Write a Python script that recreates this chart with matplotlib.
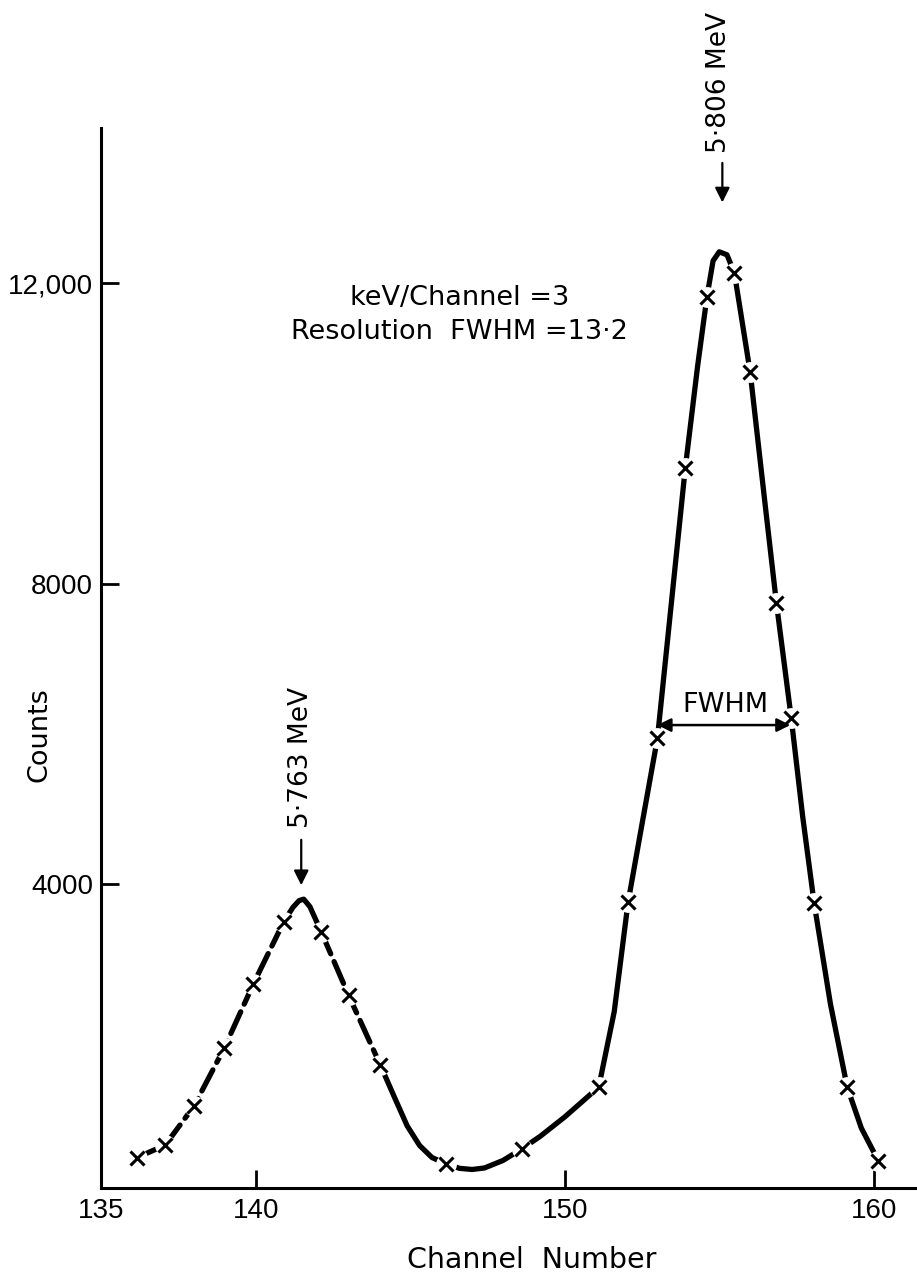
import matplotlib
matplotlib.use('Agg')
from matplotlib import pyplot as plt
from matplotlib import font_manager

plt.rcParams['font.family'] = ['DejaVu Sans']

# measured points (x markers)
channels = [136.15, 137.07, 138.0, 138.98, 139.92, 140.9, 142.12, 143.0, 144.03,
            146.16, 148.6, 151.1, 152.05, 153.0, 153.9, 154.6, 155.49, 156.0,
            156.85, 157.33, 158.07, 159.14, 160.15]
counts = [357, 526, 1045, 1818, 2670, 3495, 3362, 2523, 1591,
          273, 472, 1298, 3762, 5945, 9541, 11817, 12137, 10819,
          7743, 6211, 3748, 1298, 313]

# hand-drawn fitted curve
curve_ch = [136.15, 137.07, 138.0, 138.98, 139.92, 140.9, 141.2, 141.4, 141.55,
            141.75, 142.12, 143.0, 144.03, 144.5, 144.9, 145.3, 145.7, 146.16,
            146.6, 147.0, 147.4, 148.0, 148.6, 149.2, 150.0, 150.5, 151.1,
            151.6, 152.05, 152.5, 153.0, 153.9, 154.3, 154.6, 154.8,
            155.0, 155.25, 155.49, 156.0, 156.5, 156.85, 157.33, 157.7, 158.07,
            158.6, 159.14, 159.6, 160.15]
curve_counts = [357, 526, 1045, 1818, 2670, 3495, 3690, 3780, 3800,
                3700, 3362, 2523, 1591, 1150, 780, 520, 360, 273,
                215, 200, 220, 320, 472, 640, 900, 1080, 1298,
                2300, 3762, 4800, 5945, 9541, 10900, 11817, 12300,
                12420, 12380, 12137, 10819, 9000, 7743, 6211, 4900, 3748,
                2400, 1298, 750, 313]

xticks = [135, 140, 150, 160]
xtick_labels = ['135', '140', '150', '160']
yticks = [4000, 8000, 12000]
ytick_labels = ['4000', '8000', '12,000']

# narrower digits for the tick numbers if the font is there
try:
    font_manager.findfont('Liberation Sans', fallback_to_default=False)
    tick_font, tick_size = 'Liberation Sans', 20
except Exception:
    tick_font, tick_size = 'DejaVu Sans', 18

fig = plt.figure(figsize=(9.17, 12.87), dpi=100)
ax = fig.add_axes([0.1105, 0.0769, 0.8895, 0.8236])

line_kw = dict(color='black', lw=3.8, solid_capstyle='round', dash_capstyle='round', zorder=2)
# left peak drawn with long dashes, the rest solid
ax.plot(curve_ch[:6], curve_counts[:6], dashes=(4.5, 1.6), **line_kw)
ax.plot(curve_ch[5:11], curve_counts[5:11], **line_kw)
ax.plot(curve_ch[10:13], curve_counts[10:13], dashes=(4.5, 1.6), **line_kw)
ax.plot(curve_ch[12:], curve_counts[12:], **line_kw)
ax.plot(channels, counts, ls='none', marker='o', ms=15, mfc='white', mec='none', zorder=3)
ax.plot(channels, counts, ls='none', marker='x', ms=10, mew=2.2, color='black', zorder=4)

ax.set_xlim(135, 161.4)
ax.set_ylim(-47, 14068)
for s in ['top', 'right']:
    ax.spines[s].set_visible(False)
for s in ['left', 'bottom']:
    ax.spines[s].set_linewidth(2.2)

ax.set_xticks(xticks, xtick_labels)
ax.set_yticks(yticks, ytick_labels)
ax.tick_params(axis='both', direction='in', length=13, width=2, labelsize=tick_size)
ax.tick_params(axis='x', pad=7)
ax.tick_params(axis='y', pad=6)
for lab in ax.get_xticklabels() + ax.get_yticklabels():
    lab.set_family([tick_font, 'DejaVu Sans'])
ax.xaxis.get_major_ticks()[0].tick1line.set_visible(False)

fig.text(40 / 917, 1 - 735 / 1287, 'Counts', rotation=90, fontsize=19.5, ha='center', va='center')
fig.text(532 / 917, 1 - 1260 / 1287, 'Channel  Number', fontsize=20.5, ha='center', va='center')

ax.text(146.6, 11804, 'keV/Channel =3', fontsize=19.5, ha='center', va='center')
ax.text(146.6, 11352, 'Resolution  FWHM =13\u00b72', fontsize=19.5, ha='center', va='center')

# peak labels
ax.text(155.0, 14680, '5\u00b7806 MeV', rotation=90, fontsize=19, ha='center', va='center', clip_on=False)
ax.annotate('', xy=(155.1, 13040), xytext=(155.1, 13640), annotation_clip=False,
            arrowprops=dict(arrowstyle='-|>', color='black', lw=1.6, mutation_scale=22))
ax.text(141.45, 5692, '5\u00b7763 MeV', rotation=90, fontsize=19, ha='center', va='center')
ax.annotate('', xy=(141.47, 3948), xytext=(141.47, 4627),
            arrowprops=dict(arrowstyle='-|>', color='black', lw=1.6, mutation_scale=22))

# FWHM marker
ax.annotate('', xy=(153.0, 6118), xytext=(157.3, 6118), zorder=5,
            arrowprops=dict(arrowstyle='<|-|>', color='black', lw=1.8, mutation_scale=20,
                            shrinkA=0, shrinkB=0))
ax.text(155.2, 6385, 'FWHM', fontsize=19.5, ha='center', va='center')

plt.savefig('out.png', dpi=100)
